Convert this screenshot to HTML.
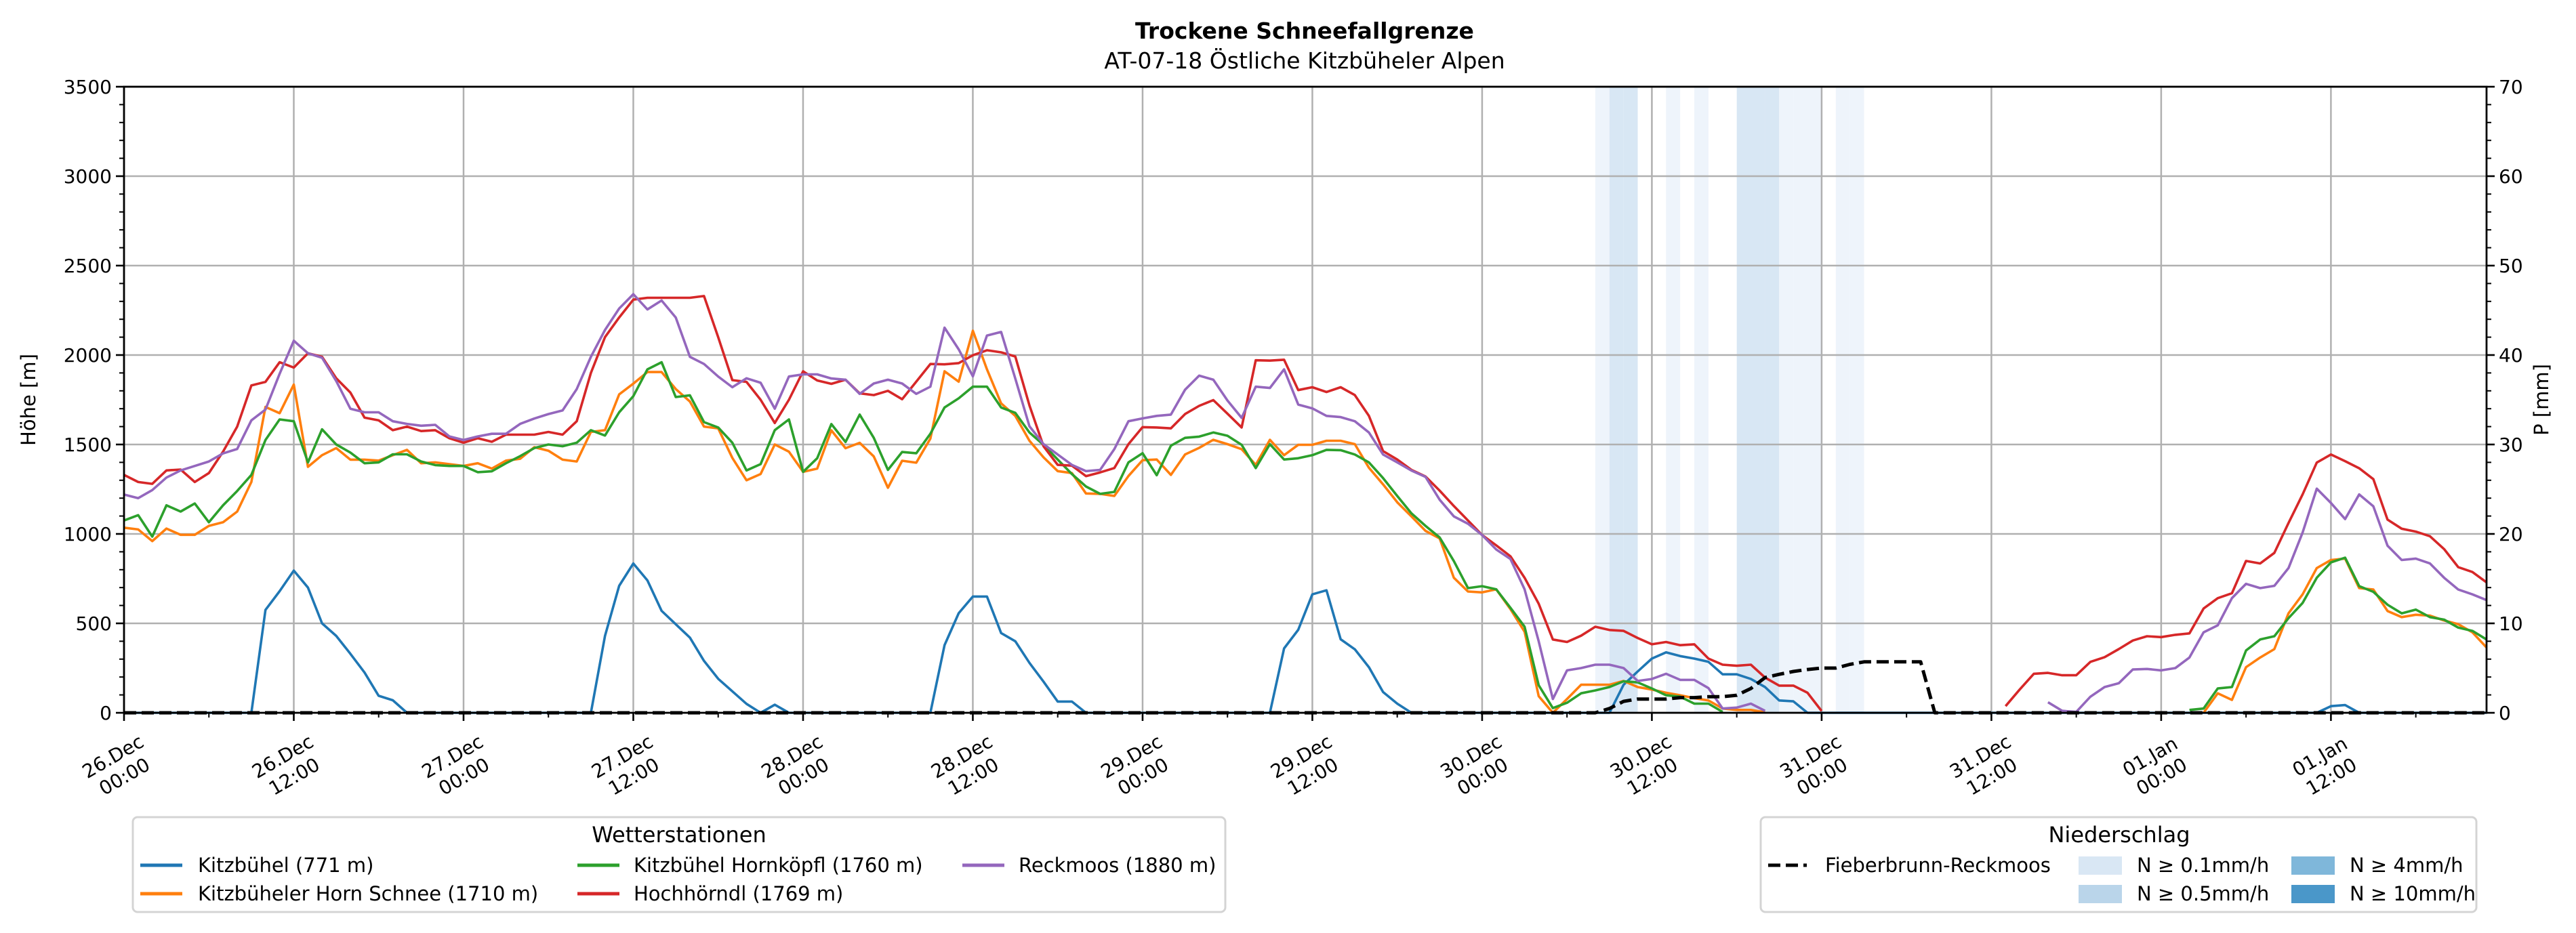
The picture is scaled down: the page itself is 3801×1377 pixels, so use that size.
<!DOCTYPE html>
<html><head><meta charset="utf-8">
<style>
html,body{margin:0;padding:0;background:#fff;}
svg{display:block;font-family:"DejaVu Sans","Liberation Sans",sans-serif;}
</style></head>
<body>
<svg id="chart" width="3801" height="1377" viewBox="0 0 3801 1377" xmlns="http://www.w3.org/2000/svg">
<rect width="3801" height="1377" fill="#fff"/>
<text x="1925" y="57" text-anchor="middle" font-size="33" font-weight="bold">Trockene Schneefallgrenze</text>
<text x="1925" y="101" text-anchor="middle" font-size="33">AT-07-18 Östliche Kitzbüheler Alpen</text>
<g id="bands"></g>
<g id="grid"></g>
<g id="series"></g>
<g id="axes"></g>
<text transform="translate(52,590) rotate(-90)" text-anchor="middle" font-size="29">Höhe [m]</text>
<text transform="translate(3760,590) rotate(-90)" text-anchor="middle" font-size="29">P [mm]</text>

<g>
<rect x="196" y="1206" width="1612" height="140" rx="7" fill="#fff" stroke="#d4d4d4" stroke-width="3"/>
<text x="1002" y="1243" text-anchor="middle" font-size="32">Wetterstationen</text>
<g><line x1="207" y1="1277" x2="269" y2="1277" stroke="#1f77b4" stroke-width="5"/><text x="292" y="1287" font-size="29">Kitzbühel (771 m)</text></g>
<g><line x1="207" y1="1319" x2="269" y2="1319" stroke="#ff7f0e" stroke-width="5"/><text x="292" y="1329" font-size="29">Kitzbüheler Horn Schnee (1710 m)</text></g>
<g><line x1="852" y1="1277" x2="914" y2="1277" stroke="#2ca02c" stroke-width="5"/><text x="935" y="1287" font-size="29">Kitzbühel Hornköpfl (1760 m)</text></g>
<g><line x1="852" y1="1319" x2="914" y2="1319" stroke="#d62728" stroke-width="5"/><text x="935" y="1329" font-size="29">Hochhörndl (1769 m)</text></g>
<g><line x1="1420" y1="1277" x2="1482" y2="1277" stroke="#9467bd" stroke-width="5"/><text x="1503" y="1287" font-size="29">Reckmoos (1880 m)</text></g>
</g>

<g>
<rect x="2598" y="1206" width="1056" height="140" rx="7" fill="#fff" stroke="#d4d4d4" stroke-width="3"/>
<text x="3127" y="1243" text-anchor="middle" font-size="32">Niederschlag</text>
<g><line x1="2609" y1="1277" x2="2666" y2="1277" stroke="#000" stroke-width="5" stroke-dasharray="18 8"/><text x="2693" y="1287" font-size="29">Fieberbrunn-Reckmoos</text></g>
<g><rect x="3067" y="1264" width="64" height="27" fill="#d9e7f4"/><text x="3153" y="1287" font-size="29">N ≥ 0.1mm/h</text></g>
<g><rect x="3067" y="1306" width="64" height="27" fill="#bad5ea"/><text x="3153" y="1329" font-size="29">N ≥ 0.5mm/h</text></g>
<g><rect x="3381" y="1264" width="64" height="27" fill="#7fb7da"/><text x="3467" y="1287" font-size="29">N ≥ 4mm/h</text></g>
<g><rect x="3381" y="1306" width="64" height="27" fill="#4a97c9"/><text x="3467" y="1329" font-size="29">N ≥ 10mm/h</text></g>
</g>
</svg>
<script>
const _=null;
const xTickLabels=[["26.Dec","00:00"],["26.Dec","12:00"],["27.Dec","00:00"],["27.Dec","12:00"],["28.Dec","00:00"],["28.Dec","12:00"],["29.Dec","00:00"],["29.Dec","12:00"],["30.Dec","00:00"],["30.Dec","12:00"],["31.Dec","00:00"],["31.Dec","12:00"],["01.Jan","00:00"],["01.Jan","12:00"]];
const yTicks=[0,500,1000,1500,2000,2500,3000,3500];
const y2Ticks=[0,10,20,30,40,50,60,70];
const precipHours=[104,105,106,109,111,114,115,116,117,118,119,121,122];
const precipClass=[1,2,2,1,1,2,2,2,1,1,1,1,1];
const kitzbuehel=[0,0,0,0,0,0,0,0,0,0,
575,680,795,700,500,430,330,225,95,70,
0,0,0,0,0,0,0,0,0,0,0,0,0,0,
430,710,835,740,570,495,420,290,190,120,50,
0,45,0,0,0,0,0,0,0,0,0,0,0,
378,557,650,650,446,400,279,174,63,63,
0,0,0,0,0,0,0,0,0,0,0,0,0,0,
360,464,662,685,411,355,255,116,51,
0,0,0,0,0,0,0,0,0,0,0,0,0,0,0,
157,231,303,338,317,303,285,215,215,189,144,69,64,
0,0,0,0,0,0,0,0,0,0,0,0,0,0,0,0,0,0,0,0,0,0,0,0,0,0,0,0,0,0,0,0,0,0,0,0,0,
37,43,
0,0,0,0,0,0,0,0,0,0];
const hornSchnee=[1035,1025,960,1030,995,995,1045,1065,1125,1290,
1710,1675,1835,1375,1440,1480,1415,1415,1410,1440,
1470,1395,1400,1390,1380,1395,1365,1410,1420,1485,
1465,1415,1405,1570,1580,1780,1840,1905,1905,1810,
1740,1600,1590,1425,1300,1335,1500,1460,
1347,1365,1579,1479,1509,1433,1258,1409,1398,1533,
1909,1851,2136,1920,1730,1660,1521,1428,1351,1340,
1226,1224,1212,1324,1412,1416,1330,1444,1481,1526,
1502,1474,1386,1526,1440,1498,1498,1521,1521,1502,
1370,1277,1177,1098,1017,975,755,678,673,690,
580,453,93,0,
77,157,157,157,178,144,130,112,98,82,69,24,16,16,3,
_,_,_,_,_,_,_,_,_,_,_,_,_,_,_,_,_,_,_,_,_,_,_,_,_,_,_,_,_,_,
0,
109,72,255,309,356,556,662,809,854,862,697,689,569,535,548,543,516,495,450,365];
const hornkoepfl=[1075,1105,985,1160,1125,1170,1065,1160,1240,1330,
1525,1640,1630,1400,1585,1500,1455,1395,1400,1445,
1445,1405,1385,1380,1380,1345,1350,1395,1435,1480,
1500,1490,1510,1580,1550,1680,1770,1920,1960,1765,
1775,1625,1595,1510,1355,1390,1580,1640,
1347,1423,1614,1514,1667,1537,1358,1458,1451,1560,
1707,1758,1823,1823,1707,1677,1567,1498,1416,1335,
1265,1224,1235,1400,1451,1328,1493,1537,1544,1567,
1549,1498,1368,1502,1416,1423,1440,1470,1468,1444,
1400,1312,1212,1115,1045,980,848,697,708,690,
587,481,154,26,
56,109,125,144,176,170,136,98,90,51,51,5,
_,_,_,_,_,_,_,_,_,_,_,_,_,_,_,_,_,_,_,_,_,_,_,_,_,_,_,_,_,_,_,_,
16,24,136,144,348,410,428,529,614,755,841,867,708,676,604,556,577,535,521,476,458,410];
const hochhoerndl=[1330,1290,1280,1355,1360,1290,1340,1460,1600,1830,
1850,1960,1930,2010,1990,1870,1790,1650,1635,1580,
1600,1575,1580,1535,1510,1535,1515,1555,1555,1555,
1570,1555,1630,1900,2100,2210,2310,2320,2320,2320,
2320,2330,2100,1860,1850,1750,1620,1750,
1909,1858,1839,1862,1786,1776,1800,1753,1851,1950,
1948,1955,1999,2027,2015,1992,1718,1490,1386,1382,
1323,1344,1368,1502,1597,1595,1590,1670,1716,1748,
1672,1595,1971,1969,1974,1804,1820,1793,1820,1776,
1660,1463,1416,1358,1321,1242,1156,1075,994,936,
875,755,610,410,
396,431,481,463,458,418,383,396,378,383,303,269,263,269,197,152,152,112,10,
_,_,_,_,_,_,_,_,_,_,_,_,
37,130,218,223,210,210,285,311,356,404,428,423,436,444,583,641,668,849,835,894,1061,1221,1399,1444,1407,1367,1306,1080,1029,1013,987,915,814,787,729];
const reckmoos=[1220,1200,1245,1315,1355,1380,1405,1450,1475,1635,
1695,1895,2080,2010,1985,1855,1700,1680,1680,1630,
1615,1605,1610,1545,1525,1545,1560,1560,1615,1645,
1670,1690,1810,1990,2140,2260,2340,2255,2305,2210,
1990,1950,1880,1820,1870,1845,1700,1880,
1892,1892,1869,1862,1783,1841,1862,1841,1783,1823,
2153,2032,1881,2109,2129,1869,1602,1502,1444,1386,
1351,1358,1474,1630,1646,1660,1667,1806,1885,1862,
1746,1649,1823,1816,1920,1723,1702,1660,1653,1630,
1567,1444,1400,1354,1319,1191,1098,1057,994,913,
860,690,400,77,
237,250,269,269,250,178,189,218,184,184,138,24,29,51,11,
_,_,_,_,_,_,_,_,_,_,_,_,_,_,_,_,_,_,_,
59,11,5,90,144,165,242,245,237,250,309,450,489,641,721,697,710,809,1008,1253,1173,1083,1221,1154,934,854,862,835,755,689,662,630];
const fieberbrunn=[0,0,0,0,0,0,0,0,0,0,0,0,0,0,0,0,0,0,0,0,0,0,0,0,0,0,0,0,0,0,
0,0,0,0,0,0,0,0,0,0,0,0,0,0,0,0,0,0,0,0,0,0,0,0,0,0,0,0,0,0,
0,0,0,0,0,0,0,0,0,0,0,0,0,0,0,0,0,0,0,0,0,0,0,0,0,0,0,0,0,0,
0,0,0,0,0,0,0,0,0,0,0,0,0,0,0,
24,64,77,77,77,85,85,90,90,98,136,197,215,231,242,250,250,271,285,285,285,285,285,
0,0,0,0,0,0,0,0,0,0,0,0,0,0,0,0,0,0,0,0,0,0,0,0,0,0,0,0,0,0,0,0,0,0,0,0,0,0,0,0];

const L=183,R=3669,T=128,B=1052,HMAX=167;
const NS="http://www.w3.org/2000/svg";
function xs(h){return L+(R-L)*h/HMAX;}
function ys(v){return B-(B-T)*v/3500;}
function y2s(v){return B-(B-T)*v/70;}
function mk(tag,attrs,parent){const e=document.createElementNS(NS,tag);for(const k in attrs)e.setAttribute(k,attrs[k]);parent.appendChild(e);return e;}

const bands=document.getElementById('bands');
const bandColors=["#fff","#eef4fb","#d8e7f4"];
precipHours.forEach((h,i)=>{
  const r=mk('rect',{x:xs(h),y:T,width:xs(h+1)-xs(h),height:B-T,fill:bandColors[precipClass[i]]},bands);
  
  
});

const grid=document.getElementById('grid');
yTicks.forEach(v=>{
  const l=mk('line',{x1:L,x2:R,y1:ys(v),y2:ys(v),stroke:'#b0b0b0','stroke-width':2.5},grid);
  
  
});
xTickLabels.forEach((lab,i)=>{
  const x=xs(i*12);
  const l=mk('line',{x1:x,x2:x,y1:T,y2:B,stroke:'#b0b0b0','stroke-width':2.5},grid);
  
  
});

const seriesG=document.getElementById('series');
function drawLine(data,color,name,dash){
  let d='',pen=false;
  data.forEach((v,h)=>{
    if(v===null){pen=false;return;}
    d+=(pen?'L':'M')+xs(h).toFixed(1)+' '+ys(v).toFixed(1);
    pen=true;
  });
  const p=mk('path',{d:d,fill:'none',stroke:color,'stroke-width':dash?5:3.6,'stroke-linejoin':'round'},seriesG);
  if(dash)p.setAttribute('stroke-dasharray','18 8');
  
  
}
drawLine(kitzbuehel,'#1f77b4','line-kitzbuehel');
drawLine(hornSchnee,'#ff7f0e','line-horn-schnee');
drawLine(hornkoepfl,'#2ca02c','line-hornkoepfl');
drawLine(hochhoerndl,'#d62728','line-hochhoerndl');
drawLine(reckmoos,'#9467bd','line-reckmoos');
drawLine(fieberbrunn,'#000','line-fieberbrunn',true);

const axes=document.getElementById('axes');
const frame=mk('rect',{x:L,y:T,width:R-L,height:B-T,fill:'none',stroke:'#000','stroke-width':2.8},axes);


for(let v=0;v<=3500;v+=100){
  const major=v%500===0;
  mk('line',{x1:L,x2:L-(major?12:7),y1:ys(v),y2:ys(v),stroke:'#000','stroke-width':major?2.6:2},axes);
}
yTicks.forEach(v=>{
  const t=mk('text',{x:L-18,y:ys(v)+10,'text-anchor':'end','font-size':28},axes);
  t.textContent=v;
  
  
});
for(let v=0;v<=70;v+=2){
  const major=v%10===0;
  mk('line',{x1:R,x2:R+(major?12:7),y1:y2s(v),y2:y2s(v),stroke:'#000','stroke-width':major?2.6:2},axes);
}
y2Ticks.forEach(v=>{
  const t=mk('text',{x:R+18,y:y2s(v)+10,'text-anchor':'start','font-size':28},axes);
  t.textContent=v;
  
  
});
for(let h=0;h<=HMAX;h+=6){
  const major=h%12===0;
  mk('line',{x1:xs(h),x2:xs(h),y1:B,y2:B+(major?12:7),stroke:'#000','stroke-width':major?2.6:2},axes);
}
xTickLabels.forEach((lab,i)=>{
  const x=xs(i*12);
  const g=mk('g',{transform:'translate('+(x-8)+',1131) rotate(-30)'},axes);
  
  
  const t1=mk('text',{x:0,y:-7,'text-anchor':'middle','font-size':28},g);t1.textContent=lab[0];
  const t2=mk('text',{x:0,y:27,'text-anchor':'middle','font-size':28},g);t2.textContent=lab[1];
});
</script>
</body></html>
